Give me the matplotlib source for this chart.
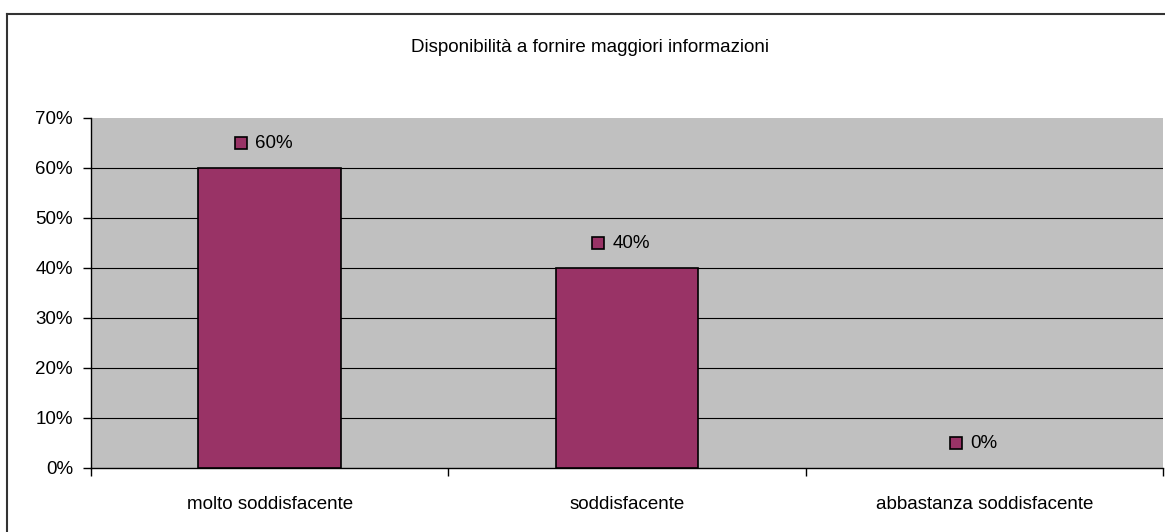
import matplotlib.pyplot as plt
from matplotlib.lines import Line2D
from matplotlib.ticker import MultipleLocator, PercentFormatter

# Dati del grafico
categorie = ["molto soddisfacente", "soddisfacente", "abbastanza soddisfacente"]
valori = [0.60, 0.40, 0.00]
titolo = "Disponibilità a fornire maggiori informazioni"

plt.rcParams['font.family'] = ['Liberation Sans', 'DejaVu Sans']

fig = plt.figure(figsize=(11.65, 5.32), dpi=100)
ax = fig.add_axes([91 / 1165, 1 - 468 / 532, 1072 / 1165, 350 / 532])

ax.set_facecolor("#C0C0C0")
x = list(range(len(categorie)))
spessori = [1.2 if v > 0 else 0 for v in valori]
ax.bar(x, valori, width=0.4, color="#993366", edgecolor="black", linewidth=spessori, zorder=3)

ax.set_xlim(-0.5, len(categorie) - 0.5)
ax.set_ylim(0, 0.70)
ax.yaxis.set_major_locator(MultipleLocator(0.10))
ax.yaxis.set_major_formatter(PercentFormatter(1.0, decimals=0))
for v in [0.1, 0.2, 0.3, 0.4, 0.5, 0.6]:
    ax.axhline(v, color="black", linewidth=0.8, zorder=1)

# tick delle categorie ai bordi
ax.set_xticks([i - 0.5 for i in range(len(categorie) + 1)], minor=False)
ax.set_xticklabels([""] * (len(categorie) + 1))
ax.set_xticks(x, minor=True)
ax.set_xticklabels(categorie, minor=True, fontsize=13.5)
ax.tick_params(axis="x", which="minor", length=0, pad=20)
ax.tick_params(axis="x", which="major", length=6, width=1, direction="out")
ax.tick_params(axis="y", length=6, width=1, labelsize=13.5, pad=7)

for s in ["top", "right"]:
    ax.spines[s].set_visible(False)
ax.spines["left"].set_linewidth(1)
ax.spines["bottom"].set_linewidth(1)

# etichette dati con quadratino
for i, v in enumerate(valori):
    ax.plot(i - 0.08, v + 0.05, marker="s", markersize=8, markerfacecolor="#993366",
            markeredgecolor="black", markeredgewidth=1.2, clip_on=False, zorder=4)
    ax.text(i - 0.04, v + 0.05, f"{v:.0%}", fontsize=13.5, va="center", ha="left", zorder=4)

fig.text(590 / 1165, 1 - 47 / 532, titolo, fontsize=13.5, ha="center", va="center")

# cornice esterna
fig.add_artist(Line2D([7 / 1165, 1.0], [1 - 14 / 532] * 2, transform=fig.transFigure,
                      color="#333333", linewidth=1.5))
fig.add_artist(Line2D([7 / 1165] * 2, [0.0, 1 - 14 / 532], transform=fig.transFigure,
                      color="#333333", linewidth=1.5))

fig.savefig("out.png", dpi=100)
